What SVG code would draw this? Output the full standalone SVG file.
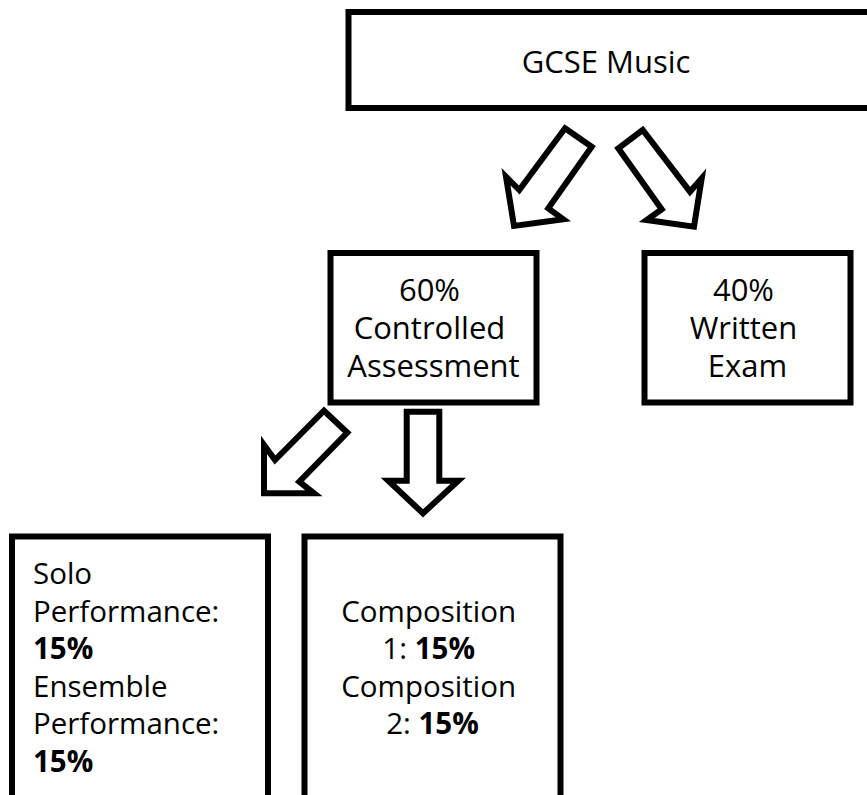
<svg xmlns="http://www.w3.org/2000/svg" width="867" height="795" viewBox="0 0 867 795">
  <style>
    .box { fill: #ffffff; stroke: #000000; stroke-width: 6; }
    .arrow { fill: #ffffff; stroke: #000000; stroke-width: 6; stroke-linejoin: miter; }
    text { font-family: "Open Sans", "Noto Sans", "Liberation Sans", sans-serif; fill: #000000; }
    .t31 { font-size: 31px; }
    .t30 { font-size: 29.5px; }
    .b { font-weight: bold; }
  </style>
  <rect x="0" y="0" width="867" height="795" fill="#ffffff"/>

  <g id="gcse">
    <rect class="box" x="348.5" y="12" width="525" height="96"/>
    <text class="t31" x="606" y="73" text-anchor="middle">GCSE Music</text>
  </g>

  <g id="controlled">
    <rect class="box" x="330.5" y="253" width="206" height="149.5"/>
    <text class="t31" text-anchor="middle">
      <tspan x="433.5" y="301">60%</tspan>
      <tspan x="433.5" y="339">Controlled</tspan>
      <tspan x="433.5" y="377">Assessment</tspan>
    </text>
  </g>

  <g id="written">
    <rect class="box" x="644.5" y="253" width="206" height="149.5"/>
    <text class="t31" text-anchor="middle">
      <tspan x="747.5" y="301">40%</tspan>
      <tspan x="747.5" y="339">Written</tspan>
      <tspan x="747.5" y="377">Exam</tspan>
    </text>
  </g>

  <g id="performance">
    <rect class="box" x="12" y="536.5" width="256" height="280"/>
    <text class="t30">
      <tspan x="33" y="584">Solo</tspan>
      <tspan x="33" y="621.5">Performance:</tspan>
      <tspan x="33" y="659" class="b">15%</tspan>
      <tspan x="33" y="696.5">Ensemble</tspan>
      <tspan x="33" y="734">Performance:</tspan>
      <tspan x="33" y="771.5" class="b">15%</tspan>
    </text>
  </g>

  <g id="composition">
    <rect class="box" x="304.5" y="536.5" width="256" height="280"/>
    <text class="t30" text-anchor="middle">
      <tspan x="432.5" y="621.5">Composition</tspan>
      <tspan x="432.5" y="659">1: <tspan class="b">15%</tspan></tspan>
      <tspan x="432.5" y="696.5">Composition</tspan>
      <tspan x="432.5" y="734">2: <tspan class="b">15%</tspan></tspan>
    </text>
  </g>

  <g id="connectors">
    <polygon class="arrow" points="565,128.3 591.7,146.7 548.3,208.3 563.3,219.3 514,226 506,176.7 519.3,190"/>
    <polygon class="arrow" points="618.3,148.3 642.7,130 690,191.7 701.7,178.3 694,226.7 646.7,220 661.7,209.3"/>
    <polygon class="arrow" points="324,410.7 347.3,432.7 299.3,481.7 314,493.3 264,493.3 264,445 275,460"/>
    <polygon class="arrow" points="406.7,411.7 439.3,411.7 439.3,480.7 458.3,480.7 423,513.3 388.3,480.7 406.7,480.7"/>
  </g>
</svg>
